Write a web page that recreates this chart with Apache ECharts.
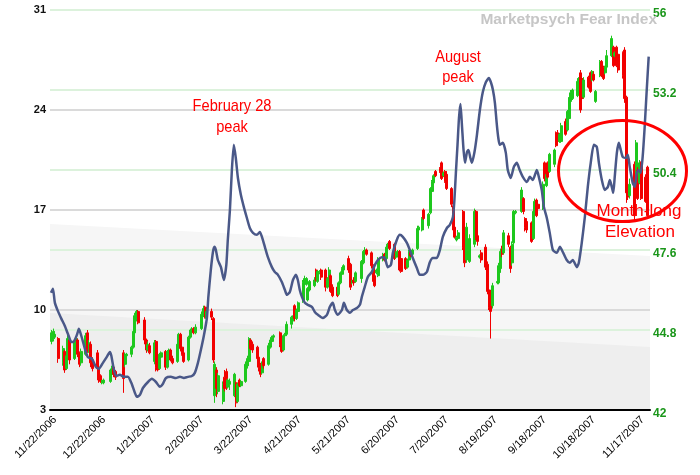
<!DOCTYPE html>
<html><head><meta charset="utf-8">
<script src="https://cdn.jsdelivr.net/npm/echarts@6/dist/echarts.min.js"></script>
<style>html,body{margin:0;padding:0;background:#fff}#c{width:700px;height:475px}</style>
</head><body><div id="c"></div>
<script>
// x ticks: days after 11/22/2006
const xTickDays = [0,30,60,90,120,150,180,210,240,270,300,330,360];
const leftTicks = {min:3, max:31, step:7};
const rightTicks = {min:42, max:56, step:2.8};

// candles: date, open, close, low, high (left axis)
const candles = [
['2006-11-20',7.8,8.4,7.6,8.6],['2006-11-21',8.0,8.5,7.8,8.7],['2006-11-22',8.1,8.3,8.0,8.5],['2006-11-24',8.0,6.6,6.3,8.1],
['2006-11-27',6.3,7.3,6.1,7.5],['2006-11-28',7.1,5.8,5.6,7.2],['2006-11-29',5.9,6.8,5.8,6.9],['2006-11-30',6.6,8.0,6.5,8.3],['2006-12-01',7.9,6.5,6.2,8.0],
['2006-12-04',6.6,7.7,6.5,7.9],['2006-12-05',7.5,8.0,7.3,8.1],['2006-12-06',7.9,6.9,6.7,8.0],['2006-12-07',7.0,6.2,6.0,7.1],['2006-12-08',6.3,7.1,6.1,7.3],
['2006-12-11',6.9,8.2,6.8,8.4],['2006-12-12',8.4,7.1,7.0,8.6],['2006-12-13',7.2,7.7,7.0,7.9],['2006-12-14',7.6,6.3,6.0,7.8],['2006-12-15',6.5,5.9,5.7,6.7],
['2006-12-18',7.0,5.9,5.7,7.2],['2006-12-19',6.0,5.1,4.9,6.1],['2006-12-20',5.4,5.0,4.9,5.5],['2006-12-21',4.9,5.0,4.8,5.1],['2006-12-22',4.9,5.1,4.8,5.2],
['2006-12-26',5.0,5.8,4.9,5.9],['2006-12-27',5.5,6.0,5.4,6.1],['2006-12-28',6.0,5.5,5.3,6.1],['2006-12-29',5.7,5.3,5.1,5.8],
['2007-01-03',7.0,5.2,4.2,7.2],['2007-01-04',6.2,6.9,6.0,7.0],['2007-01-05',6.8,6.9,6.7,7.0],
['2007-01-08',6.9,7.4,6.7,7.5],['2007-01-09',7.4,8.5,7.3,8.7],['2007-01-10',8.4,9.6,8.3,9.8],['2007-01-11',9.4,9.9,9.2,10.0],['2007-01-12',9.9,9.1,9.0,10.0],
['2007-01-16',9.3,7.9,7.6,9.5],['2007-01-17',7.9,7.2,7.0,8.0],['2007-01-18',7.2,7.6,7.1,7.8],['2007-01-19',7.5,7.0,6.9,7.7],
['2007-01-22',6.4,7.7,6.2,7.9],['2007-01-23',7.8,6.0,5.7,7.9],['2007-01-24',6.1,5.8,5.7,6.3],['2007-01-25',5.9,6.9,5.8,7.0],['2007-01-26',6.7,7.0,6.5,7.1],
['2007-01-29',7.1,6.0,5.8,7.2],['2007-01-30',6.0,7.1,5.9,7.2],['2007-01-31',6.9,7.2,6.8,7.3],['2007-02-01',7.2,6.5,6.4,7.3],['2007-02-02',6.6,6.3,6.2,6.8],
['2007-02-05',6.4,7.6,6.3,7.8],['2007-02-06',7.5,8.3,7.3,8.4],['2007-02-07',8.3,7.3,7.1,8.4],['2007-02-08',7.4,6.9,6.8,7.6],['2007-02-09',7.0,6.4,6.3,7.1],
['2007-02-12',6.5,8.1,6.4,8.2],['2007-02-13',8.1,8.6,8.0,8.7],['2007-02-14',8.5,8.6,8.4,8.8],['2007-02-15',8.7,8.4,8.3,8.8],['2007-02-16',8.4,8.8,8.3,9.0],
['2007-02-20',8.7,9.7,8.6,9.9],['2007-02-21',9.6,10.1,9.5,10.3],['2007-02-22',10.2,9.5,9.4,10.3],['2007-02-23',9.4,9.9,9.3,10.1],
['2007-02-26',9.9,9.5,9.3,10.1],['2007-02-27',9.4,6.5,6.3,9.5],['2007-02-28',4.0,6.2,3.5,6.4],['2007-03-01',5.8,4.5,3.9,6.0],['2007-03-02',4.3,5.4,4.1,5.6],
['2007-03-05',3.6,4.8,3.4,5.0],['2007-03-06',5.3,4.5,4.3,5.8],['2007-03-07',5.7,4.6,4.4,5.9],['2007-03-08',4.6,5.1,4.5,5.2],['2007-03-09',4.8,5.0,4.4,5.2],
['2007-03-12',4.0,5.5,3.9,5.6],['2007-03-13',4.9,3.5,3.2,5.0],['2007-03-14',3.6,4.8,3.5,4.9],['2007-03-15',5.1,4.7,4.6,5.2],['2007-03-16',4.7,5.0,4.6,5.1],
['2007-03-19',5.0,6.2,4.9,6.4],['2007-03-20',6.1,6.6,5.9,6.8],['2007-03-21',6.4,8.0,6.1,8.1],['2007-03-22',7.9,7.3,7.2,8.0],['2007-03-23',7.6,7.2,7.0,7.8],
['2007-03-26',7.4,6.6,6.4,7.5],['2007-03-27',6.7,6.0,5.7,6.8],['2007-03-28',6.2,5.5,5.3,6.3],['2007-03-29',5.6,6.2,5.5,6.4],['2007-03-30',6.6,6.1,5.9,6.7],
['2007-04-02',6.2,7.5,6.1,7.7],['2007-04-03',7.4,7.9,7.3,8.1],['2007-04-04',7.8,8.1,7.7,8.2],['2007-04-05',8.1,8.2,8.0,8.3],
['2007-04-09',8.4,7.6,7.4,8.5],['2007-04-10',7.8,7.1,7.0,7.9],['2007-04-11',7.2,8.2,7.1,8.3],['2007-04-12',8.2,8.3,8.1,8.4],['2007-04-13',8.3,9.0,8.2,9.2],
['2007-04-16',9.0,9.5,8.7,9.6],['2007-04-17',9.3,9.6,9.2,9.7],['2007-04-18',10.3,9.4,9.2,10.4],['2007-04-19',9.4,10.0,9.3,10.1],['2007-04-20',9.9,10.5,9.8,10.6],
['2007-04-23',10.6,11.9,10.5,12.1],['2007-04-24',11.8,12.2,11.6,12.4],['2007-04-25',11.8,12.2,11.7,12.3],['2007-04-26',10.7,11.5,10.6,11.6],['2007-04-27',11.4,12.0,11.3,12.1],
['2007-04-30',11.7,12.1,11.6,12.3],['2007-05-01',12.8,12.1,12.0,12.9],['2007-05-02',12.0,12.7,11.9,12.8],['2007-05-03',12.6,12.7,12.5,12.8],['2007-05-04',12.8,12.3,12.1,12.9],
['2007-05-07',12.8,11.6,11.3,12.9],['2007-05-08',11.6,12.2,11.5,12.3],['2007-05-09',12.2,12.8,12.1,13.0],['2007-05-10',12.4,11.3,11.2,12.5],['2007-05-11',11.6,11.0,10.9,11.8],
['2007-05-14',11.6,11.0,10.9,11.8],['2007-05-15',11.1,11.9,11.0,12.0],['2007-05-16',11.9,12.6,11.8,12.7],['2007-05-17',12.5,12.9,12.4,13.0],['2007-05-18',12.8,13.1,12.6,13.2],
['2007-05-21',13.6,12.8,12.6,13.8],['2007-05-22',13.2,11.6,11.4,13.3],['2007-05-23',11.9,12.0,11.8,12.1],['2007-05-24',12.1,11.9,11.7,12.3],['2007-05-25',12.0,12.6,11.9,12.7],
['2007-05-29',12.2,13.4,11.9,13.5],['2007-05-30',13.3,14.1,13.2,14.2],['2007-05-31',14.0,14.2,13.9,14.4],['2007-06-01',14.2,13.9,13.8,14.3],
['2007-06-04',14.0,13.1,12.9,14.1],['2007-06-05',13.1,12.0,11.8,13.2],['2007-06-06',12.4,11.7,11.6,12.5],['2007-06-07',12.6,12.8,12.5,12.9],['2007-06-08',12.4,13.6,12.3,13.7],
['2007-06-11',13.5,13.9,13.4,14.0],['2007-06-12',13.9,13.5,13.4,14.0],['2007-06-13',13.6,14.4,13.5,14.5],['2007-06-14',14.5,14.6,14.4,14.7],['2007-06-15',14.8,14.3,14.2,14.9],
['2007-06-18',14.6,13.6,13.5,14.7],['2007-06-19',13.7,14.0,13.6,14.1],['2007-06-20',14.0,14.1,13.9,14.2],['2007-06-21',14.1,12.8,12.7,14.2],['2007-06-22',13.6,12.7,12.6,13.7],
['2007-06-25',13.6,12.9,12.8,13.7],['2007-06-26',13.0,13.5,12.9,13.6],['2007-06-27',13.5,14.1,13.4,14.2],['2007-06-28',14.1,13.8,13.7,14.2],['2007-06-29',13.9,14.2,13.8,14.3],
['2007-07-02',14.3,15.7,14.2,15.9],['2007-07-03',15.6,15.8,15.5,15.9],['2007-07-05',15.6,16.4,15.5,16.5],['2007-07-06',17.0,16.4,16.3,17.1],
['2007-07-09',15.9,16.7,15.7,16.8],['2007-07-10',16.8,18.5,16.7,18.6],['2007-07-11',18.3,19.0,18.2,19.1],['2007-07-12',18.9,19.4,18.7,19.5],['2007-07-13',19.7,19.4,19.3,19.8],
['2007-07-16',19.9,19.7,19.6,20.0],['2007-07-17',20.3,19.2,19.1,20.4],['2007-07-18',19.4,19.6,19.3,19.7],['2007-07-19',19.7,19.0,18.9,19.8],['2007-07-20',19.5,18.5,18.4,19.7],
['2007-07-23',18.5,17.4,17.2,18.6],['2007-07-24',17.3,15.6,15.4,17.4],['2007-07-25',15.8,15.1,15.0,16.0],['2007-07-26',14.9,15.1,14.8,15.2],['2007-07-27',15.0,15.4,14.9,15.6],
['2007-07-30',16.9,14.4,14.2,17.0],['2007-07-31',15.6,13.3,13.0,15.8],['2007-08-01',13.5,15.8,13.3,16.1],['2007-08-02',13.9,14.0,13.8,14.1],['2007-08-03',13.4,15.0,13.3,15.3],
['2007-08-06',14.6,16.9,14.4,17.1],['2007-08-07',16.9,15.0,14.9,17.0],['2007-08-08',15.2,14.8,14.5,15.4],['2007-08-09',13.7,13.8,13.6,13.9],['2007-08-10',14.0,13.5,13.3,14.2],
['2007-08-13',14.4,13.0,12.8,14.6],['2007-08-14',13.2,11.3,11.1,13.4],['2007-08-15',11.4,10.2,10.0,11.6],['2007-08-16',10.6,9.9,8.0,10.8],['2007-08-17',10.3,11.7,10.1,11.9],
['2007-08-20',11.9,12.0,11.8,12.1],['2007-08-21',11.9,13.1,11.8,13.3],['2007-08-22',12.9,14.1,12.6,14.3],['2007-08-23',14.3,13.9,13.7,14.5],['2007-08-24',14.0,15.4,13.9,15.6],
['2007-08-27',15.2,14.6,14.4,15.4],['2007-08-28',14.4,12.9,12.6,14.5],['2007-08-29',13.3,14.6,13.1,14.8],['2007-08-30',14.7,16.9,14.6,17.0],['2007-08-31',16.8,16.9,16.7,17.0],
['2007-09-04',16.9,18.4,16.8,18.6],['2007-09-05',17.8,16.9,16.7,17.9],['2007-09-06',16.4,15.8,15.5,16.5],['2007-09-07',16.2,15.6,15.4,16.4],
['2007-09-10',16.1,14.8,14.7,16.2],['2007-09-11',15.0,16.9,14.9,17.0],['2007-09-12',16.9,17.6,16.8,17.8],['2007-09-13',17.7,16.6,16.5,17.8],['2007-09-14',17.4,17.1,16.9,17.5],
['2007-09-17',17.2,18.8,17.0,19.0],['2007-09-18',20.3,19.2,19.0,20.4],['2007-09-19',18.7,19.5,18.6,19.6],['2007-09-20',20.3,19.3,19.2,20.4],['2007-09-21',19.7,20.9,19.6,21.0],
['2007-09-24',20.2,21.2,20.0,21.3],['2007-09-25',22.4,21.5,21.4,22.5],['2007-09-26',22.4,21.8,21.7,22.6],['2007-09-27',21.8,22.3,21.7,22.4],['2007-09-28',21.8,22.9,21.7,23.1],
['2007-10-01',23.2,22.3,22.2,23.4],['2007-10-02',22.6,23.9,22.5,24.0],['2007-10-03',23.4,24.7,23.2,24.9],['2007-10-04',24.6,25.2,24.5,25.4],['2007-10-05',24.8,25.4,24.7,25.5],
['2007-10-08',25.0,26.0,24.9,26.2],['2007-10-09',25.3,26.2,25.1,26.3],['2007-10-10',26.6,24.0,23.8,26.8],['2007-10-11',26.2,24.8,24.7,26.3],['2007-10-12',24.9,26.1,24.8,26.3],
['2007-10-15',26.3,25.6,25.5,26.4],['2007-10-16',26.6,25.3,25.2,26.7],['2007-10-17',26.1,26.7,26.0,26.8],['2007-10-18',26.5,26.1,26.0,26.7],['2007-10-19',24.6,25.3,24.5,25.4],
['2007-10-22',26.4,27.4,26.3,27.5],['2007-10-23',27.4,26.4,26.3,27.5],['2007-10-24',27.0,26.2,26.1,27.1],['2007-10-25',26.6,27.0,26.5,27.1],['2007-10-26',27.0,27.8,26.9,28.2],
['2007-10-29',27.8,29.0,27.7,29.2],['2007-10-30',28.4,27.1,27.0,28.5],['2007-10-31',27.8,28.0,27.7,28.1],['2007-11-01',28.4,27.1,27.0,28.5],['2007-11-02',27.9,26.8,26.6,28.0],
['2007-11-05',28.0,26.4,26.2,28.1],['2007-11-06',28.2,24.8,24.5,28.4],['2007-11-07',24.9,18.2,17.5,25.0],['2007-11-08',18.6,17.9,17.7,19.0],['2007-11-09',18.0,18.8,17.8,19.2],
['2007-11-12',20.2,16.6,16.3,20.4],['2007-11-13',18.9,21.7,18.8,21.9],['2007-11-14',19.8,17.8,17.7,20.0],['2007-11-15',18.9,20.3,18.8,20.5],['2007-11-16',20.3,17.8,17.7,20.4],
['2007-11-19',19.3,17.6,17.5,19.5],['2007-11-20',20.0,16.6,16.5,20.1]
];

// Fear index line: [day after 11/22/2006, value on right axis]
const fearIndex = [
[-2.4,46.10],[-1.2,46.24],[0,45.75],[1.8,45.47],[4.0,45.19],[6.1,44.94],[8.0,44.66],[10.1,44.38],[11.3,44.38],[13.5,44.63],[14.7,44.84],[16.2,44.59],[18.4,44.14],[20.2,43.85],[22.7,43.79],[25.1,43.51],[26.9,43.44],[29.4,43.65],[31.8,43.86],[33.7,44.03],[34.6,43.89],[35.8,43.51],[37.4,43.19],[39.8,43.23],[42.3,43.16],[44.7,43.16],[46.8,42.95],[49.0,42.60],[50.2,42.46],[52.1,42.53],[53.9,42.77],[57.0,42.98],[59.4,43.09],[61.9,42.98],[64.3,42.81],[66.1,42.91],[68.0,43.12],[71.0,43.16],[74.1,43.12],[76.6,43.16],[79.0,43.12],[81.4,43.16],[83.9,43.19],[85.7,43.30],[87.6,43.65],[89.4,44.10],[91.2,44.59],[93.1,45.22],[94.0,45.96],[95.5,46.90],[96.8,47.53],[97.7,47.71],[98.6,47.60],[99.8,47.25],[101.7,47.00],[103.5,46.55],[105.0,47.08],[105.9,47.95],[107.2,49.00],[108.4,50.40],[109.6,51.28],[110.8,50.82],[112.1,50.12],[113.9,49.53],[115.7,49.11],[117.6,48.72],[119.4,48.37],[121.3,48.20],[123.7,48.13],[125.5,48.23],[126.8,48.06],[128.6,47.71],[130.4,47.36],[132.9,47.00],[134.7,46.83],[136.6,46.73],[139.0,46.48],[140.9,46.20],[142.1,46.03],[143.9,46.13],[145.8,46.55],[147.6,46.73],[148.8,46.55],[150.0,46.20],[151.3,45.96],[153.1,45.75],[154.9,45.68],[157.4,45.61],[159.2,45.43],[161.1,45.33],[164.1,45.22],[166.6,45.33],[168.4,45.61],[170.2,45.75],[171.5,45.50],[173.3,45.33],[175.8,45.50],[177.0,45.75],[178.8,45.50],[180.7,45.40],[182.5,45.50],[185.0,45.57],[186.8,45.68],[188.0,45.96],[189.8,46.31],[191.7,46.66],[194.1,46.83],[196.0,47.08],[197.8,47.25],[200.3,47.35],[202.1,47.32],[203.9,47.00],[205.8,47.08],[207.0,47.50],[209.4,47.95],[211.3,48.13],[213.1,48.06],[215.6,47.85],[217.4,47.60],[219.2,47.32],[221.7,46.97],[223.5,46.73],[225.4,46.73],[227.8,46.83],[229.7,47.18],[231.5,47.32],[233.9,47.32],[235.8,47.60],[237.6,48.06],[240.1,48.37],[241.9,48.48],[243.8,48.76],[244.7,49.35],[245.6,50.30],[246.6,51.28],[247.5,52.22],[248.4,52.71],[249.3,51.98],[250.3,51.10],[251.2,50.65],[252.4,51.03],[253.3,51.10],[254.5,50.82],[255.4,50.65],[257.0,51.03],[258.5,51.63],[260.3,52.50],[262.1,53.13],[264.0,53.48],[265.8,53.62],[267.0,53.48],[268.3,53.20],[269.5,52.75],[270.7,51.98],[271.6,51.52],[272.5,51.28],[274.4,51.35],[276.2,51.00],[277.4,50.40],[279.2,50.12],[281.1,50.51],[282.9,50.65],[284.7,50.40],[286.6,50.16],[289.1,49.98],[290.9,50.16],[292.7,50.05],[295.2,50.40],[296.4,50.16],[298.2,49.70],[299.5,49.11],[301.3,48.72],[303.1,48.20],[305.0,47.60],[307.4,47.50],[309.3,47.71],[311.1,47.53],[313.5,47.25],[315.4,47.15],[317.2,47.25],[319.7,47.00],[320.9,47.15],[322.7,47.85],[324.6,48.76],[326.4,49.81],[328.2,50.65],[330.1,51.28],[331.9,51.21],[333.2,50.65],[335.0,50.05],[336.8,49.70],[338.7,49.81],[339.9,50.05],[341.1,49.81],[342.0,49.60],[342.9,50.16],[344.2,51.00],[345.4,51.35],[346.6,51.10],[347.8,50.86],[349.7,50.82],[350.9,50.93],[352.1,50.51],[353.9,49.95],[355.2,49.81],[356.4,50.30],[357.6,50.40],[358.8,50.30],[360.0,50.86],[361.2,51.87],[362.5,53.20],[363.7,54.37]
];

// background bands (left axis value at left and right edge)
const bandLight = [[-3,16.02],[364.5,13.78]];
const bandDark = [[-3,9.79],[364.5,7.41]];

const BASE = Date.UTC(2006,10,22);
function dayOf(s){const p=s.split('-').map(Number);return (Date.UTC(p[0],p[1]-1,p[2])-BASE)/86400000;}
function fmtDay(v){const d=new Date(BASE+Math.round(v)*86400000);return (d.getUTCMonth()+1)+'/'+d.getUTCDate()+'/'+d.getUTCFullYear();}
const candleData = candles.map(r=>[dayOf(r[0]),r[1],r[2],r[3],r[4]]);

const FONT = '"Liberation Sans", Arial, sans-serif';
function note(text, x, y, sx){
  return {type:'text',x:x,y:y,z:100,scaleX:sx,
    style:{text:text,x:0,y:0,align:'center',verticalAlign:'middle',fill:'#ff0000',font:'17px '+FONT}};
}
const chart = echarts.init(document.getElementById('c'), null, {renderer:'canvas'});
chart.setOption({
  animation:false,
  backgroundColor:'#ffffff',
  textStyle:{fontFamily:FONT},
  grid:{left:50,right:50,top:10,bottom:65,containLabel:false},
  xAxis:{type:'value',min:-3,max:364.5,
    axisLine:{onZero:false,lineStyle:{color:'#000',width:2}},
    axisTick:{show:false},splitLine:{show:false},
    axisLabel:{customValues:xTickDays,rotate:45,fontSize:11,color:'#000',margin:8,formatter:fmtDay,fontFamily:FONT}},
  yAxis:[
    {type:'value',min:leftTicks.min,max:leftTicks.max,interval:leftTicks.step,position:'left',
      axisLine:{show:false},axisTick:{show:false},
      axisLabel:{fontWeight:'bold',color:'#111',fontSize:11,margin:4,fontFamily:FONT},
      splitLine:{lineStyle:{color:'#dadada',width:2}}},
    {type:'value',min:rightTicks.min,max:rightTicks.max,interval:rightTicks.step,position:'right',
      axisLine:{show:false},axisTick:{show:false},
      axisLabel:{margin:3,
        formatter:v=>'{a|'+String(Math.round(v*10)/10)+'}',
        rich:{a:{fontWeight:'bold',color:'#1a961a',fontSize:12,fontFamily:FONT,padding:[7,0,0,0]}}},
      splitLine:{lineStyle:{color:'#dcf2dc',width:2}}}
  ],
  series:[
    {type:'line',data:bandLight,yAxisIndex:0,symbol:'none',lineStyle:{width:0},areaStyle:{color:'#f6f6f6',opacity:1},z:-2,silent:true},
    {type:'line',data:bandDark,yAxisIndex:0,symbol:'none',lineStyle:{width:0},areaStyle:{color:'#eeeeee',opacity:1},z:-1,silent:true},
    {type:'candlestick',data:candleData,yAxisIndex:0,encode:{x:0,y:[1,2,3,4]},barWidth:2.5,
      itemStyle:{color:'#1ec81e',color0:'#f20000',borderColor:'#1ec81e',borderColor0:'#f20000',borderWidth:1}},
    {type:'line',data:fearIndex,yAxisIndex:1,symbol:'none',smooth:0.2,
      lineStyle:{color:'#4a5888',width:2.5},z:3}
  ],
  graphic:[
    {type:'text',x:657,y:20,z:100,style:{text:'Marketpsych Fear Index',align:'right',verticalAlign:'middle',fill:'#c6c6c6',font:'bold 15.5px '+FONT}},
    note('February 28',232,106,0.86),
    note('peak',232,127,0.86),
    note('August',458,57,0.86),
    note('peak',458,77,0.86),
    {type:'ellipse',z:100,shape:{cx:622.5,cy:171,rx:64,ry:50.5},style:{fill:'none',stroke:'#ff0000',lineWidth:3}},
    note('Month-long',639,211,1),
    note('Elevation',640,232,1)
  ]
});
</script></body></html>
